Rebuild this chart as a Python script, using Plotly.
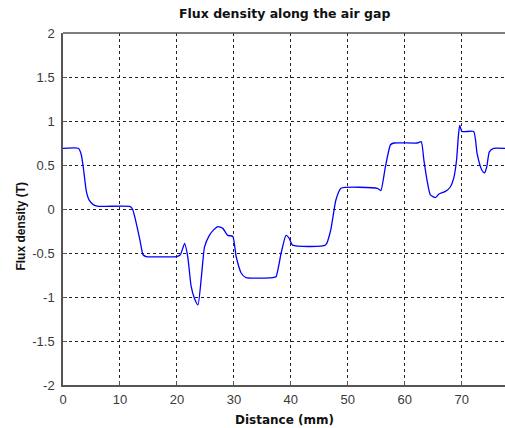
import plotly.graph_objects as go

distance_mm = [0, 2.7, 3.2, 3.55, 4.1, 4.6, 5.3, 6.2, 11.7, 12.2, 12.6, 13.5, 14.05, 14.6,
               19.9, 20.6, 21.35, 21.9, 22.5, 23.1, 23.7, 24.3, 24.85, 25.7, 26.4, 27.2,
               28.05, 28.9, 29.8, 30.4, 31.3, 32.15, 36.8, 37.4, 38.3, 39.15, 39.7, 40.3,
               46.1, 47.0, 47.9, 48.8, 55.2, 55.8, 56.6, 57.5, 58.1, 62.2, 62.9, 63.35,
               63.9, 64.5, 65.4, 66.0, 67.15, 68.0, 68.6, 69.1, 69.4, 69.65, 70.05, 72.1,
               72.7, 73.55, 74.0, 74.4, 74.85, 75.6, 77.6]
flux_T = [0.69, 0.69, 0.62, 0.48, 0.20, 0.10, 0.05, 0.03, 0.03, 0.0, -0.09, -0.35, -0.52, -0.54,
          -0.54, -0.52, -0.39, -0.54, -0.88, -1.02, -1.09, -0.77, -0.43, -0.30, -0.24, -0.20,
          -0.22, -0.30, -0.31, -0.54, -0.73, -0.78, -0.78, -0.77, -0.50, -0.30, -0.33, -0.41,
          -0.41, -0.24, 0.10, 0.235, 0.235, 0.21, 0.48, 0.73, 0.75, 0.75, 0.765, 0.56,
          0.33, 0.16, 0.13, 0.17, 0.20, 0.25, 0.35, 0.56, 0.82, 0.95, 0.88, 0.88,
          0.63, 0.44, 0.41, 0.48, 0.65, 0.69, 0.69]

x_ticks = [0, 10, 20, 30, 40, 50, 60, 70]
y_ticks = [-2, -1.5, -1, -0.5, 0, 0.5, 1, 1.5, 2]
y_tick_text = ["-2", "-1.5", "-1", "-0.5", "0", "0.5", "1", "1.5", "2"]

title_text = "Flux density along the air gap"
x_title = "Distance (mm)"
y_title = "Flux density (T)"

fig = go.Figure()
fig.add_trace(go.Scatter(x=distance_mm, y=flux_T, mode="lines",
                         line=dict(color="#0000ff", width=1.3, shape="spline", smoothing=0.5),
                         showlegend=False))

font_family = "Liberation Sans, Arial, sans-serif"
title_family = "DejaVu Sans, sans-serif"
fig.update_layout(
    width=505, height=428,
    margin=dict(l=63, r=0, t=33, b=43),
    paper_bgcolor="white", plot_bgcolor="white",
    font=dict(family=font_family, size=13, color="#333333"),
    xaxis=dict(range=[0, 77.6], tickvals=x_ticks, showgrid=True,
               gridcolor="#222222", griddash="dot", gridwidth=1,
               showline=True, linecolor="#555555", linewidth=1.5, mirror=False,
               ticks="inside", ticklen=4, tickcolor="#555555", zeroline=False,
               tickfont=dict(size=13, color="#3a3a3a"), ticklabelstandoff=2),
    yaxis=dict(range=[-2, 2], tickvals=y_ticks, ticktext=y_tick_text, showgrid=True,
               gridcolor="#222222", griddash="dot", gridwidth=1,
               showline=True, linecolor="#555555", linewidth=1.5, mirror=False,
               ticks="inside", ticklen=4, tickcolor="#555555", zeroline=False,
               tickfont=dict(size=13, color="#3a3a3a"), ticklabelstandoff=4),
    shapes=[dict(type="line", xref="paper", yref="paper", x0=0, x1=1, y0=1, y1=1,
                 line=dict(color="#555555", width=1.5))],
    annotations=[
        dict(text="<b>" + title_text + "</b>", xref="paper", yref="paper", x=0.5, y=1,
             yshift=10, xanchor="center", yanchor="bottom", showarrow=False,
             font=dict(size=12.5, color="#111111", family=title_family)),
        dict(text="<b>" + x_title + "</b>", xref="paper", yref="paper", x=0.5, y=0,
             yshift=-26, xanchor="center", yanchor="top", showarrow=False,
             font=dict(size=12, color="#111111", family=title_family)),
        dict(text="<b>" + y_title + "</b>", xref="paper", yref="paper", x=0, y=0.45,
             xshift=-42, xanchor="center", yanchor="middle", showarrow=False, textangle=-90,
             font=dict(size=12, color="#111111", family=font_family)),
    ],
)

fig.write_html("out.html",
               config={"displayModeBar": False},
               post_script="document.body.style.margin='0px';"
                           "document.body.style.overflow='hidden';")
